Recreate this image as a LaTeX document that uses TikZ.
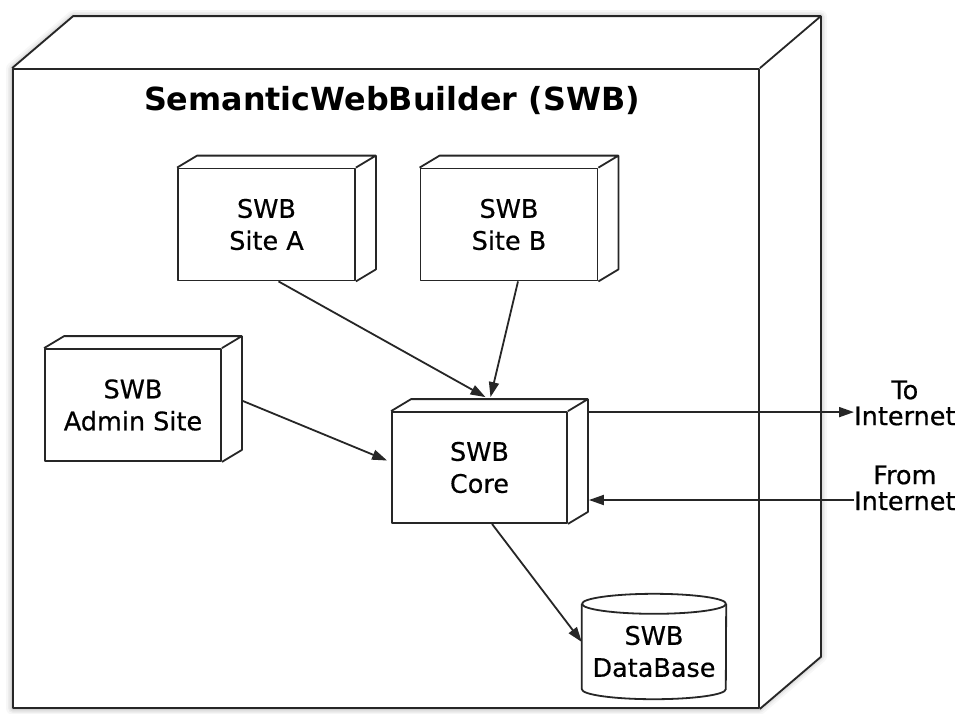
\documentclass[tikz,border=0pt]{standalone}
\usepackage{fontspec}
\setmainfont{DejaVu Sans}
\newfontfamily\medfont[FakeBold=0.5]{DejaVu Sans}
\usetikzlibrary{calc,arrows.meta}
\begin{document}
\begin{tikzpicture}[x=1pt,y=-1pt,
  line/.style={draw=black!85, line width=1.8pt, line join=round},
  boxnode/.style={line, fill=white, rectangle, inner sep=0pt, font=\medfont\fontsize{25.5}{32}\selectfont, align=center},
  arr/.style={draw=black!85, line width=1.8pt, -{Triangle[length=15pt,width=10pt]}},
  lbl/.style={font=\medfont\fontsize{25.5}{26}\selectfont, align=center, inner sep=0pt}
]
\useasboundingbox (0,0) rectangle (961,713);
% system box
\coordinate (sA) at (13,708);
\coordinate (sB) at (13,69);
\coordinate (sC) at (74,17);
\coordinate (sD) at (820,17);
\coordinate (sE) at (820,656);
\coordinate (sF) at (759,708);
\foreach \w/\o in {14/0.03,10/0.04,7/0.05,4/0.07}{
  \draw[line width=\w pt, draw=black, opacity=\o, line join=round] (sA) -- (sB) -- (sC) -- (sD) -- (sE) -- (sF) -- cycle;
}
\fill[white] (sA) -- (sB) -- (sC) -- (sD) -- (sE) -- (sF) -- cycle;
\node[line, rectangle, minimum width=746pt, minimum height=639pt, inner sep=0pt] (sys) at (386,388.5) {};
\draw[line] (sys.north west) -- ++(61,-52) -- ($(sys.north east)+(61,-52)$) -- ($(sys.south east)+(61,-52)$) -- (sys.south east)
            (sys.north east) -- ++(61,-52);
\node[font=\bfseries\fontsize{31.8}{36}\selectfont, anchor=base, inner sep=0pt] (title) at (392,110) {SemanticWebBuilder (SWB)};
% nodes
\node[boxnode, minimum width=177pt, minimum height=112pt] (siteA) at (266.5,224.5) {SWB\\Site A};
\node[boxnode, minimum width=177pt, minimum height=112pt] (siteB) at (509,224.5) {SWB\\Site B};
\node[boxnode, minimum width=176pt, minimum height=112pt] (admin) at (133,405) {SWB\\Admin Site};
\node[boxnode, minimum width=175pt, minimum height=111pt] (core) at (479.5,467.5) {SWB\\Core};
\foreach \n in {siteA,siteB,admin,core}{
  \draw[line] (\n.north west) -- ++(20,-12) -- ($(\n.north east)+(20,-12)$) -- ($(\n.south east)+(20,-12)$) -- (\n.south east)
              (\n.north east) -- ++(20,-12);
}
% database
\node[inner sep=0pt, minimum width=144pt, minimum height=95pt, align=center, font=\medfont\fontsize{25.5}{32}\selectfont] (db) at (654,651.5) {SWB\\DataBase};
\draw[line] (db.north west) -- ($(db.south west)+(0,-10)$) arc[start angle=180,end angle=0,x radius=72,y radius=10] -- (db.north east);
\draw[line] (db.north) ellipse [x radius=72, y radius=10];
% connectors
\draw[arr] ($(siteA.south)+(12,0)$) -- ($(core.north)+(6,-14)$);
\draw[arr] ($(siteB.south)+(9,0)$) -- ($(core.north)+(11,-14)$);
\draw[arr] ($(admin.east)+(21,-4)$) -- ($(core.west)+(-4,-7)$);
\node[lbl, anchor=west] (tonet) at (854,403) {To\\Internet};
\node[lbl, anchor=west] (fromnet) at (854,488) {From\\Internet};
\coordinate (c1) at ($(core.north east)+(20,1)$);
\coordinate (c2) at ($(core.east)+(21,32.5)$);
\draw[arr] (c1) -- (c1 -| tonet.west);
\draw[arr] (c2 -| fromnet.west) -- (c2);
\draw[arr] ($(core.south)+(12.5,0)$) -- ($(db.west)+(0,-9.5)$);
\end{tikzpicture}
\end{document}
